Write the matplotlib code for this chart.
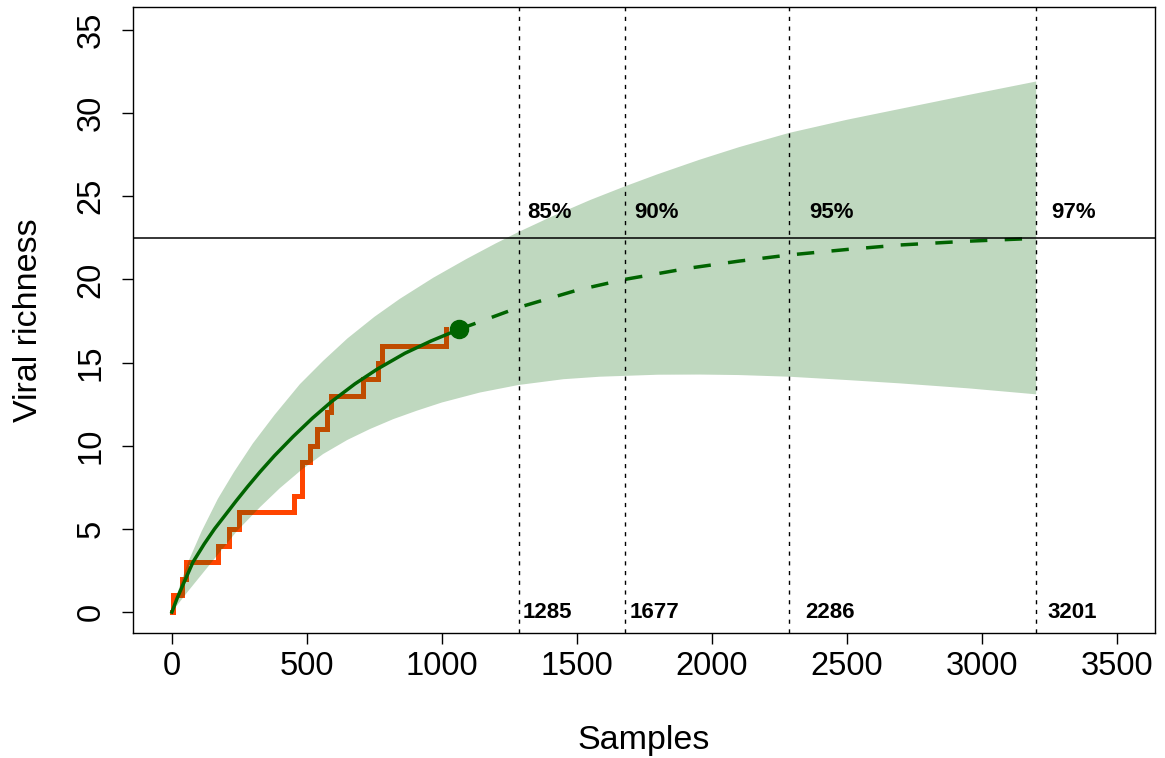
import matplotlib
matplotlib.use("Agg")
import matplotlib.pyplot as plt

# observed accumulation (step curve)
step_x = [0, 3, 36, 52, 170, 212, 248, 451, 481, 511, 536, 573, 588, 707, 765, 779, 1017]
step_y = [0, 1, 2, 3, 4, 5, 6, 7, 9, 10, 11, 12, 13, 14, 15, 16, 17]

# fitted curve up to the observed sample size
fit_x = [0, 20, 40, 78, 120, 158, 200, 238, 280, 326, 380, 449, 520, 591, 678, 760, 863, 960, 1064]
fit_y = [0, 0.85, 1.6, 3.0, 4.1, 5.0, 5.88, 6.68, 7.53, 8.42, 9.4, 10.55, 11.65, 12.65, 13.72, 14.6, 15.56, 16.3, 17.0]

# extrapolated curve
ext_x = [1064, 1285, 1500, 1677, 1912, 2100, 2286, 2500, 2696, 2950, 3201]
ext_y = [17.0, 18.32, 19.35, 20.0, 20.67, 21.1, 21.47, 21.8, 22.07, 22.3, 22.47]

# confidence band
up_x = [0, 30, 60, 110, 170, 230, 300, 380, 474, 560, 650, 750, 844, 968, 1091, 1200, 1285,
        1400, 1550, 1677, 1800, 1955, 2100, 2286, 2500, 2696, 2950, 3201]
up_y = [0, 1.62, 3.0, 4.85, 6.8, 8.42, 10.14, 11.85, 13.7, 15.1, 16.45, 17.75, 18.83, 20.1, 21.23,
        22.17, 22.86, 23.73, 24.78, 25.59, 26.33, 27.2, 27.95, 28.81, 29.6, 30.25, 31.09, 31.9]
lo_x = [0, 60, 160, 240, 326, 400, 480, 560, 650, 733, 820, 906, 1000, 1141, 1283, 1450, 1585,
        1800, 1955, 2100, 2286, 2500, 2696, 2950, 3201]
lo_y = [0, 1.25, 3.25, 4.85, 6.3, 7.45, 8.55, 9.5, 10.35, 11.0, 11.6, 12.1, 12.6, 13.2, 13.65,
        14.0, 14.15, 14.27, 14.28, 14.25, 14.15, 13.95, 13.75, 13.45, 13.09]

richness = 22.5
obs_n, obs_s = 1064, 17

cut_x = [1285, 1677, 2286, 3201]
cut_pct = ["85%", "90%", "95%", "97%"]
label_off = [30, 34, 74, 56]

fig = plt.figure(figsize=(11.65, 7.58), dpi=100)
ax = fig.add_axes([133 / 1165, 125 / 758, 1022 / 1165, 626 / 758])

ax.plot(step_x, step_y, color="orangered", lw=3.6, drawstyle="steps-post",
        solid_joinstyle="miter", zorder=2)

band_x = up_x + lo_x[::-1]
band_y = up_y + lo_y[::-1]
ax.fill(band_x, band_y, color="darkgreen", alpha=0.25, lw=0, zorder=3)

ax.plot(fit_x, fit_y, color="darkgreen", lw=2.5, zorder=4)
ax.plot(ext_x, ext_y, color="darkgreen", lw=2.5, linestyle=(0, (5, 5)), zorder=4)
ax.plot([obs_n], [obs_s], "o", color="darkgreen", ms=13, zorder=5)

ax.axhline(richness, color="black", lw=1.1, zorder=4)
for cx, pct, off in zip(cut_x, cut_pct, label_off):
    ax.axvline(cx, color="black", lw=1.0, linestyle=(0, (3, 4)), zorder=4)
    ax.text(cx + off, 24.0, pct, fontsize=16, fontweight="bold", ha="left", va="center",
            family="Liberation Sans")
    ax.text(cx + off - 15, 0.0, str(cx), fontsize=16, fontweight="bold", ha="left", va="center",
            family="Liberation Sans")

ax.set_xlim(-144, 3641)
ax.set_ylim(-1.26, 36.38)
ax.set_xticks(range(0, 3501, 500))
ax.set_yticks(range(0, 36, 5))
for lab in ax.get_yticklabels():
    lab.set_rotation(90)
    lab.set_va("center")
ax.tick_params(axis="both", direction="out", length=8, width=1, labelsize=23.5)
ax.tick_params(axis="x", pad=5)
ax.tick_params(axis="y", pad=11)
for lab in ax.get_xticklabels() + ax.get_yticklabels():
    lab.set_family("Liberation Sans")
for s in ax.spines.values():
    s.set_linewidth(1.0)

ax.set_xlabel("Samples", fontsize=24.5, family="Liberation Sans")
ax.set_ylabel("Viral richness", fontsize=24.5, family="Liberation Sans")
ax.xaxis.set_label_coords(0.5, -0.171)
ax.xaxis.label.set_va("center")
ax.yaxis.set_label_coords(-0.1027, 0.5)
ax.yaxis.label.set_va("center")

fig.savefig("out.png", dpi=100)
